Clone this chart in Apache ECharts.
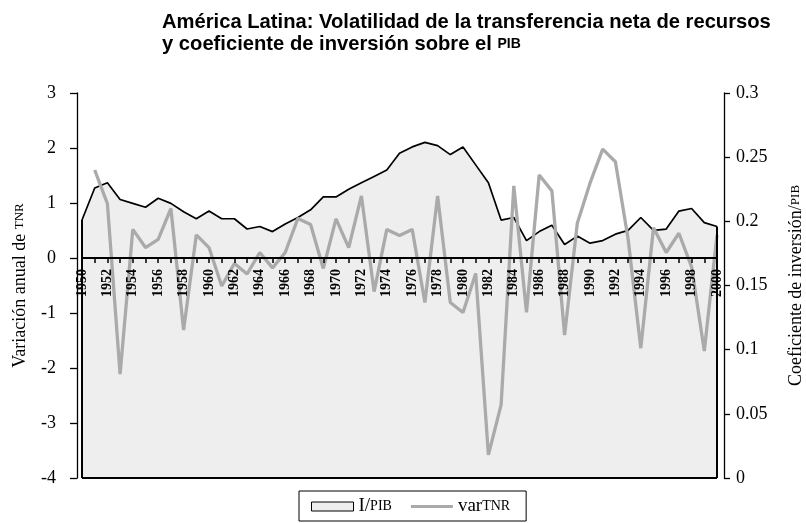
<!DOCTYPE html>
<html>
<head>
<meta charset="utf-8">
<script src="https://cdn.jsdelivr.net/npm/echarts@6/dist/echarts.min.js"></script>
<style>html,body{margin:0;padding:0;background:#fff;}#c{width:806px;height:523px;}</style>
</head>
<body>
<div id="c"></div>
<script>
var years = [];
for (var y = 1950; y <= 2000; y++) years.push(String(y));

// I/PIB (right axis)
var ipib = [0.201,0.226,0.230,0.217,0.214,0.211,0.218,0.214,0.2075,0.202,
            0.208,0.202,0.202,0.194,0.196,0.192,0.198,0.203,0.209,0.219,
            0.219,0.225,0.230,0.235,0.240,0.253,0.258,0.2615,0.259,0.252,
            0.258,0.244,0.230,0.201,0.203,0.185,0.192,0.197,0.182,0.1885,
            0.183,0.185,0.190,0.193,0.203,0.193,0.194,0.208,0.210,0.199,
            0.196];
// varTNR (left axis)
var varTNR = [null,1.60,0.99,-2.11,0.52,0.19,0.34,0.90,-1.31,0.42,
              0.19,-0.51,-0.10,-0.29,0.10,-0.18,0.10,0.72,0.61,-0.19,
              0.71,0.19,1.13,-0.61,0.52,0.41,0.52,-0.81,1.13,-0.81,
              -0.99,-0.28,-3.58,-2.67,1.31,-0.99,1.51,1.22,-1.40,0.63,
              1.36,1.98,1.75,0.35,-1.64,0.55,0.10,0.45,-0.16,-1.69,
              0.42];
var leftMin = -4, leftMax = 3;

var serif = 'Liberation Serif';
var sans = 'Liberation Sans';
var gridTop = 93, gridBottom = 45, H = 523;
var plotH = H - gridTop - gridBottom;
// place category axis at y = 0 of the left axis
var xOffset = -(0 - leftMin) / (leftMax - leftMin) * plotH;

var chart = echarts.init(document.getElementById('c'));
var first = years[0], last = years[years.length - 1];
chart.setOption({
  animation: false,
  backgroundColor: '#fff',
  title: {
    left: 157, top: 6,
    text: 'América Latina: Volatilidad de la transferencia neta de recursos\ny coeficiente de inversión sobre el {s|PIB}',
    textStyle: {
      fontFamily: sans, fontWeight: 'bold', fontSize: 20.2, lineHeight: 22, color: '#000',
      rich: { s: { fontFamily: sans, fontWeight: 'bold', fontSize: 14, color: '#000' } }
    }
  },
  legend: {
    left: 299, top: 491,
    borderColor: '#000', borderWidth: 1,
    padding: [6, 16, 5, 12],
    itemGap: 19, itemWidth: 42, itemHeight: 9,
    formatter: function (n) { return n === 'I/PIB' ? 'I/{s|PIB}' : 'var{s|TNR}'; },
    textStyle: {
      fontFamily: serif, fontSize: 19, color: '#000',
      rich: { s: { fontFamily: serif, fontSize: 14, color: '#000' } }
    },
    data: [
      { name: 'I/PIB', icon: 'rect', itemStyle: { color: '#eeeeee', borderColor: '#000', borderWidth: 1 } },
      { name: 'varTNR', icon: 'path://M0,0 L46,0 L46,3.3 L0,3.3 Z', itemStyle: { color: '#aaaaaa', borderWidth: 0 } }
    ]
  },
  grid: { left: 82, right: 89, top: gridTop, bottom: gridBottom, outerBoundsMode: 'none', containLabel: false },
  xAxis: [{
    type: 'category', data: years, boundaryGap: false, position: 'bottom', offset: xOffset, z: 5,
    axisLine: { onZero: false, lineStyle: { color: '#000', width: 2 } },
    axisTick: { interval: 0, length: 5, lineStyle: { color: '#000', width: 1.5 } },
    axisLabel: { interval: 1, rotate: 90, margin: 11, fontFamily: serif, fontWeight: 'bold', fontSize: 14, color: '#000' },
    splitLine: { show: false }
  }],
  yAxis: [{
    type: 'value', position: 'left', min: leftMin, max: leftMax, interval: 1, offset: 5, z: 5,
    name: 'Variación anual de {s|TNR}', nameLocation: 'middle', nameRotate: 90, nameGap: 48,
    nameTextStyle: { fontFamily: serif, fontSize: 18, color: '#000',
      rich: { s: { fontFamily: serif, fontSize: 13, color: '#000' } } },
    axisLine: { show: true, onZero: false, lineStyle: { color: '#000', width: 1.3 } },
    axisTick: { show: true, length: 7, lineStyle: { color: '#000', width: 1.3 } },
    axisLabel: { margin: 21, fontFamily: serif, fontSize: 18, color: '#000' },
    splitLine: { show: false }
  }, {
    type: 'value', position: 'right', min: 0, max: 0.3, interval: 0.05, offset: 7, z: 5,
    name: 'Coeficiente de inversión/{s|PIB}', nameLocation: 'middle', nameRotate: 90, nameGap: 63,
    nameTextStyle: { fontFamily: serif, fontSize: 18, color: '#000',
      rich: { s: { fontFamily: serif, fontSize: 13, color: '#000' } } },
    axisLine: { show: true, onZero: false, lineStyle: { color: '#000', width: 1.3 } },
    axisTick: { show: true, length: 6, lineStyle: { color: '#000', width: 1.3 } },
    axisLabel: { margin: 12, fontFamily: serif, fontSize: 18, color: '#000' },
    splitLine: { show: false }
  }],
  series: [{
    name: 'I/PIB', type: 'line', yAxisIndex: 1, data: ipib,
    symbol: 'none', z: 1,
    lineStyle: { color: '#000', width: 1.7 },
    itemStyle: { color: '#eeeeee', borderColor: '#000' },
    areaStyle: { color: '#eeeeee', opacity: 1 },
    markLine: {
      silent: true, symbol: 'none', label: { show: false },
      lineStyle: { color: '#000', width: 2, type: 'solid' },
      data: [
        [{ coord: [first, 0] }, { coord: [last, 0] }],
        [{ coord: [first, 0] }, { coord: [first, ipib[0]] }],
        [{ coord: [last, 0] }, { coord: [last, ipib[ipib.length - 1]] }]
      ]
    }
  }, {
    name: 'varTNR', type: 'line', yAxisIndex: 0, data: varTNR,
    symbol: 'none', z: 3,
    lineStyle: { color: '#aaaaaa', width: 3.3 },
    itemStyle: { color: '#aaaaaa' }
  }]
});
</script>
</body>
</html>
